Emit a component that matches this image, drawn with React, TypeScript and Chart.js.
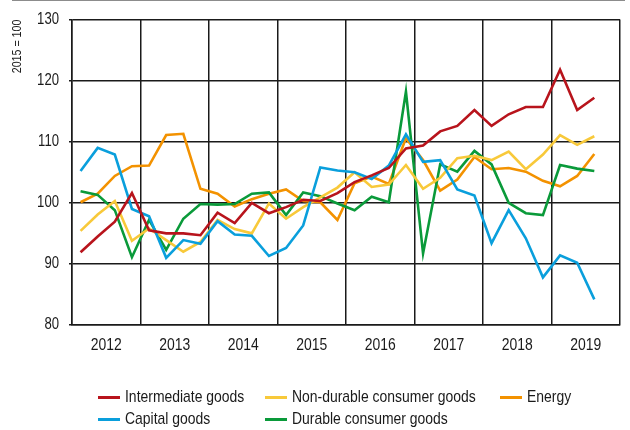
import React, { useEffect, useRef } from 'react';
import { Chart, registerables } from 'chart.js';

Chart.register(...registerables);

// ---- Data (quarterly, 2012Q1 .. 2019Q3), index 2015 = 100 ----
const years = ['2012', '2013', '2014', '2015', '2016', '2017', '2018', '2019'];
const quartersPerYear = 4;

const intermediateGoods = [
  91.9, 94.5, 96.9, 101.6, 95.5, 95.0, 95.0, 94.7,
  98.4, 96.7, 100.0, 98.3, 99.3, 100.5, 100.3, 101.6,
  103.4, 104.5, 105.7, 108.9, 109.4, 111.7, 112.6, 115.2,
  112.6, 114.5, 115.7, 115.7, 121.8, 115.2, 117.2,
];
const capitalGoods = [
  105.2, 109.0, 107.9, 99.0, 97.8, 91.0, 93.9, 93.3,
  97.0, 94.8, 94.6, 91.3, 92.6, 96.3, 105.8, 105.3,
  105.0, 103.9, 106.1, 111.2, 106.7, 107.0, 102.2, 101.2,
  93.4, 98.8, 94.2, 87.8, 91.4, 90.2, 84.2,
];
const nonDurableGoods = [
  95.4, 98.1, 100.3, 93.8, 95.8, 93.9, 92.0, 93.6,
  97.2, 95.7, 95.0, 99.9, 97.4, 99.3, 100.9, 102.5,
  105.0, 102.6, 103.0, 106.2, 102.3, 104.1, 107.3, 107.7,
  107.0, 108.4, 105.5, 107.9, 111.1, 109.5, 110.9,
];
const energy = [
  100.1, 101.5, 104.4, 106.0, 106.1, 111.1, 111.3, 102.3,
  101.5, 99.4, 100.6, 101.5, 102.2, 100.3, 100.1, 97.2,
  103.2, 104.3, 103.1, 110.6, 107.0, 102.0, 103.8, 107.5,
  105.5, 105.7, 105.1, 103.6, 102.7, 104.4, 108.0,
];
const durableGoods = [
  101.9, 101.3, 98.8, 91.1, 97.2, 92.3, 97.4, 99.8,
  99.7, 99.8, 101.5, 101.7, 98.0, 101.7, 101.1, 99.9,
  98.8, 101.0, 100.1, 118.2, 91.7, 106.3, 105.1, 108.5,
  106.3, 100.0, 98.3, 98.0, 106.2, 105.6, 105.2,
];

const yMin = 80;
const yMax = 130;
const yStep = 10;
const yTitle = '2015 = 100';

const RED = '#b8141c';
const BLUE = '#0a9fdc';
const YELLOW = '#f8c93a';
const ORANGE = '#f39200';
const GREEN = '#0a9a3a';
const INK = '#1a1a1a';
const FONT = '"Liberation Sans", Arial, sans-serif';
const NARROW = 0.82; // no narrow face installed: condense text horizontally

const seriesList = [
  { label: 'Intermediate goods', data: intermediateGoods, color: RED },
  { label: 'Capital goods', data: capitalGoods, color: BLUE },
  { label: 'Non-durable consumer goods', data: nonDurableGoods, color: YELLOW },
  { label: 'Durable consumer goods', data: durableGoods, color: GREEN },
  { label: 'Energy', data: energy, color: ORANGE },
];

// legend layout: column-major, matching reference
const legendItems = [
  { s: 0, left: 98, top: 397 },
  { s: 1, left: 98, top: 419 },
  { s: 2, left: 265, top: 397 },
  { s: 3, left: 265, top: 419 },
  { s: 4, left: 500, top: 397 },
];

// condenses canvas text (like a narrow typeface) using fillText's maxWidth
const narrowTextPlugin = {
  id: 'narrowText',
  beforeDraw(chart: any) {
    const ctx = chart.ctx;
    if (ctx.__narrowed) return;
    const orig = ctx.fillText.bind(ctx);
    ctx.fillText = (text: string, x: number, y: number, maxWidth?: number) => {
      const w = ctx.measureText(text).width * NARROW;
      const mw = maxWidth !== undefined ? Math.min(maxWidth, w) : w;
      if (mw > 0) orig(text, x, y, mw);
    };
    ctx.__narrowed = true;
  },
};

export default function App() {
  const canvasRef = useRef<HTMLCanvasElement | null>(null);

  useEffect(() => {
    if (!canvasRef.current) return;
    const totalSlots = years.length * quartersPerYear;
    const chart = new Chart(canvasRef.current, {
      type: 'line',
      plugins: [narrowTextPlugin],
      data: {
        datasets: seriesList.map((s) => ({
          label: s.label,
          data: s.data.map((v, i) => ({ x: i + 0.5, y: v })),
          borderColor: s.color,
          backgroundColor: s.color,
          borderWidth: 2.6,
          pointRadius: 0,
          tension: 0,
          fill: false,
        })),
      },
      options: {
        animation: false,
        responsive: false,
        maintainAspectRatio: false,
        layout: { padding: { top: 15, right: 5, left: 0, bottom: 0 } },
        plugins: { legend: { display: false }, tooltip: { enabled: false } },
        scales: {
          x: {
            type: 'linear',
            min: 0,
            max: totalSlots,
            afterBuildTicks: (scale: any) => {
              const t: any[] = [];
              for (let k = 0; k <= totalSlots; k += 2) t.push({ value: k });
              scale.ticks = t;
            },
            afterFit: (scale: any) => {
              scale.height = 105;
            },
            grid: {
              drawTicks: false,
              color: (ctx: any) =>
                ctx.tick && ctx.tick.value % quartersPerYear === 0 ? INK : 'rgba(0,0,0,0)',
              lineWidth: 1.5,
            },
            border: { display: true, color: INK, width: 1.5 },
            ticks: {
              autoSkip: false,
              maxRotation: 0,
              padding: 10,
              color: INK,
              font: { family: FONT, size: 17 },
              callback: (v: any) =>
                v % quartersPerYear === 2 ? years[(v - 2) / quartersPerYear] : '',
            },
          },
          y: {
            min: yMin,
            max: yMax,
            afterFit: (scale: any) => {
              scale.width = 72;
            },
            grid: { color: INK, lineWidth: 1.5, tickLength: 3 },
            border: { display: true, color: INK, width: 1.5 },
            ticks: {
              stepSize: yStep,
              padding: 10,
              color: INK,
              font: { family: FONT, size: 16 },
            },
            title: {
              display: true,
              text: yTitle,
              align: 'end',
              color: INK,
              padding: { top: 10, bottom: 0 },
              font: { family: FONT, size: 13 },
            },
          },
        },
      },
    });
    return () => chart.destroy();
  }, []);

  return (
    <div style={{ position: 'fixed', left: 0, top: 0, width: 630, height: 430, background: '#fff' }}>
      <div style={{ position: 'absolute', left: 12, top: 0, width: 613, height: 1, background: '#8c8c8c' }} />
      <canvas ref={canvasRef} width={630} height={430} style={{ position: 'absolute', left: 0, top: 0 }} />
      {legendItems.map((it) => {
        const s = seriesList[it.s];
        return (
          <div
            key={s.label}
            style={{
              position: 'absolute',
              left: it.left,
              top: it.top - 10,
              height: 20,
              display: 'flex',
              alignItems: 'center',
              fontSize: 17,
              fontFamily: FONT,
              color: INK,
              whiteSpace: 'nowrap',
            }}
          >
            <span style={{ display: 'inline-block', width: 22, height: 3, background: s.color, marginRight: 5 }} />
            <span
              style={{
                display: 'inline-block',
                transform: `scaleX(${NARROW})`,
                transformOrigin: 'left center',
              }}
            >
              {s.label}
            </span>
          </div>
        );
      })}
    </div>
  );
}
